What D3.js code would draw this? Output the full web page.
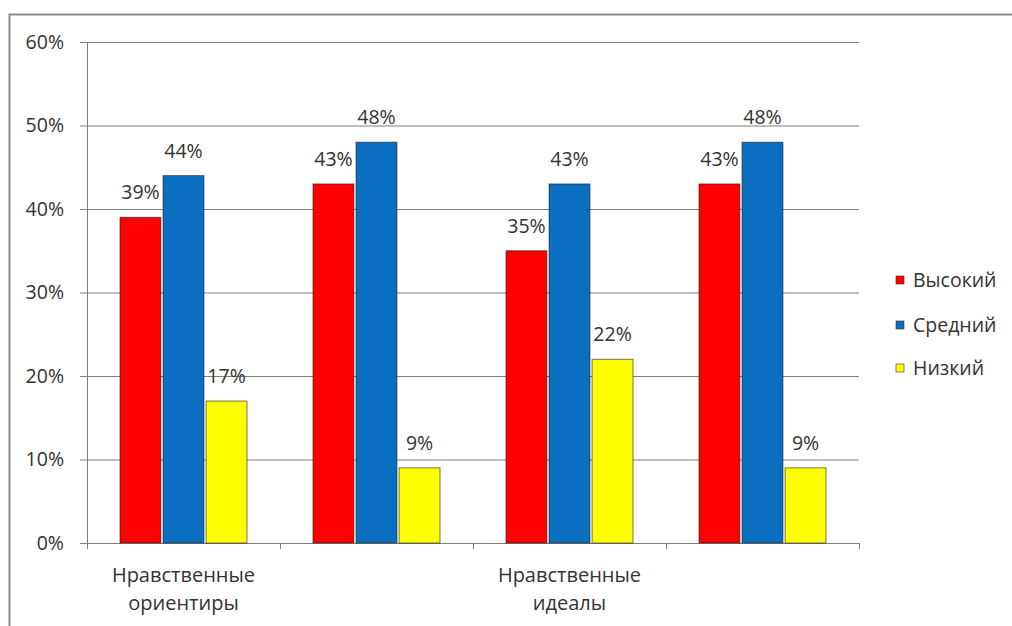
<!DOCTYPE html>
<html>
<head>
<meta charset="utf-8">
<script src="https://cdn.jsdelivr.net/npm/d3@7"></script>
<style>
  html, body { margin: 0; padding: 0; background: #fff; }
  svg text { font-family: "Open Sans", "DejaVu Sans", sans-serif; fill: #333; }
</style>
</head>
<body>
<svg id="chart" width="1012" height="626"></svg>
<script>
// Chart data
const categories = ["Нравственные ориентиры", "", "Нравственные идеалы", ""];
const seriesNames = ["Высокий", "Средний", "Низкий"];
const highValues = [39, 43, 35, 43];
const midValues = [44, 48, 43, 48];
const lowValues = [17, 9, 22, 9];
const yTicks = [0, 10, 20, 30, 40, 50, 60];
const colors = ["#ff0000", "#0a6fc1", "#ffff00"];

const seriesValues = [highValues, midValues, lowValues];
const fontSize = 19.5;

const svg = d3.select("#chart");

// Outer frame (top and left edges)
svg.append("path")
  .attr("d", "M9.5,626 L9.5,14.5 L1012,14.5")
  .attr("fill", "none")
  .attr("stroke", "#8a8a8a")
  .attr("stroke-width", 2);

const plot = { left: 87, right: 859, top: 42, bottom: 543 };

const y = d3.scaleLinear().domain([0, 60]).range([plot.bottom, plot.top]);
const x0 = d3.scaleBand().domain(d3.range(categories.length)).range([plot.left, plot.right]);
const x1 = d3.scaleBand().domain(d3.range(seriesNames.length))
  .range([33, x0.bandwidth() - 33]).paddingInner(0.05);

// Horizontal gridlines and percentage labels
const yAxis = d3.axisLeft(y).tickValues(yTicks).tickFormat(d => d + "%")
  .tickSize(-(plot.right - plot.left)).tickPadding(23);
const gy = svg.append("g").attr("transform", `translate(${plot.left},0)`).call(yAxis);
gy.select(".domain").remove();
gy.selectAll(".tick line").attr("stroke", "#7f7f7f").attr("x1", -7);
gy.selectAll(".tick text").attr("font-size", fontSize).attr("fill", "#333")
  .style("font-family", "'Open Sans', sans-serif");

// Vertical axis line
svg.append("line")
  .attr("x1", plot.left + 0.5).attr("x2", plot.left + 0.5)
  .attr("y1", plot.top).attr("y2", plot.bottom)
  .attr("stroke", "#7f7f7f");

// Category axis with ticks between groups
const boundaries = d3.range(categories.length + 1).map(i => plot.left + i * x0.bandwidth());
svg.append("line")
  .attr("x1", plot.left).attr("x2", plot.right)
  .attr("y1", plot.bottom + 0.5).attr("y2", plot.bottom + 0.5)
  .attr("stroke", "#7f7f7f");
svg.selectAll(".cat-tick").data(boundaries).enter().append("line")
  .attr("class", "cat-tick")
  .attr("x1", d => Math.round(d) + 0.5).attr("x2", d => Math.round(d) + 0.5)
  .attr("y1", plot.bottom).attr("y2", plot.bottom + 6)
  .attr("stroke", "#7f7f7f");

// Category labels (two lines each)
categories.forEach((c, i) => {
  if (!c) return;
  const words = c.split(" ");
  const cx = x0(i) + x0.bandwidth() / 2;
  const t = svg.append("text")
    .attr("x", cx)
    .attr("y", 582)
    .attr("text-anchor", "middle")
    .attr("font-size", 20);
  words.forEach((w, k) => {
    t.append("tspan").attr("x", cx).attr("dy", k === 0 ? 0 : 28).text(w);
  });
});

// Bars
const groups = svg.selectAll(".group").data(categories).enter().append("g")
  .attr("class", "group")
  .attr("transform", (d, i) => `translate(${x0(i)},0)`);

seriesNames.forEach((s, si) => {
  groups.append("rect")
    .attr("x", x1(si))
    .attr("width", x1.bandwidth())
    .attr("y", (d, i) => y(seriesValues[si][i]))
    .attr("height", (d, i) => plot.bottom - y(seriesValues[si][i]))
    .attr("fill", colors[si])
    .attr("stroke", "#1a1a1a")
    .attr("stroke-opacity", 0.6)
    .attr("stroke-width", 1);
  groups.append("text")
    .attr("x", x1(si) + x1.bandwidth() / 2)
    .attr("y", (d, i) => y(seriesValues[si][i]) - 18)
    .attr("text-anchor", "middle")
    .attr("font-size", fontSize)
    .text((d, i) => seriesValues[si][i] + "%");
});

// Legend
const legendY = [280, 325, 368];
seriesNames.forEach((s, si) => {
  svg.append("rect")
    .attr("x", 896).attr("y", legendY[si] - 4)
    .attr("width", 8).attr("height", 8)
    .attr("fill", colors[si])
    .attr("stroke", "#333").attr("stroke-width", 0.6);
  svg.append("text")
    .attr("x", 913).attr("y", legendY[si])
    .attr("dy", "0.35em")
    .attr("font-size", fontSize)
    .text(s);
});
</script>
</body>
</html>
